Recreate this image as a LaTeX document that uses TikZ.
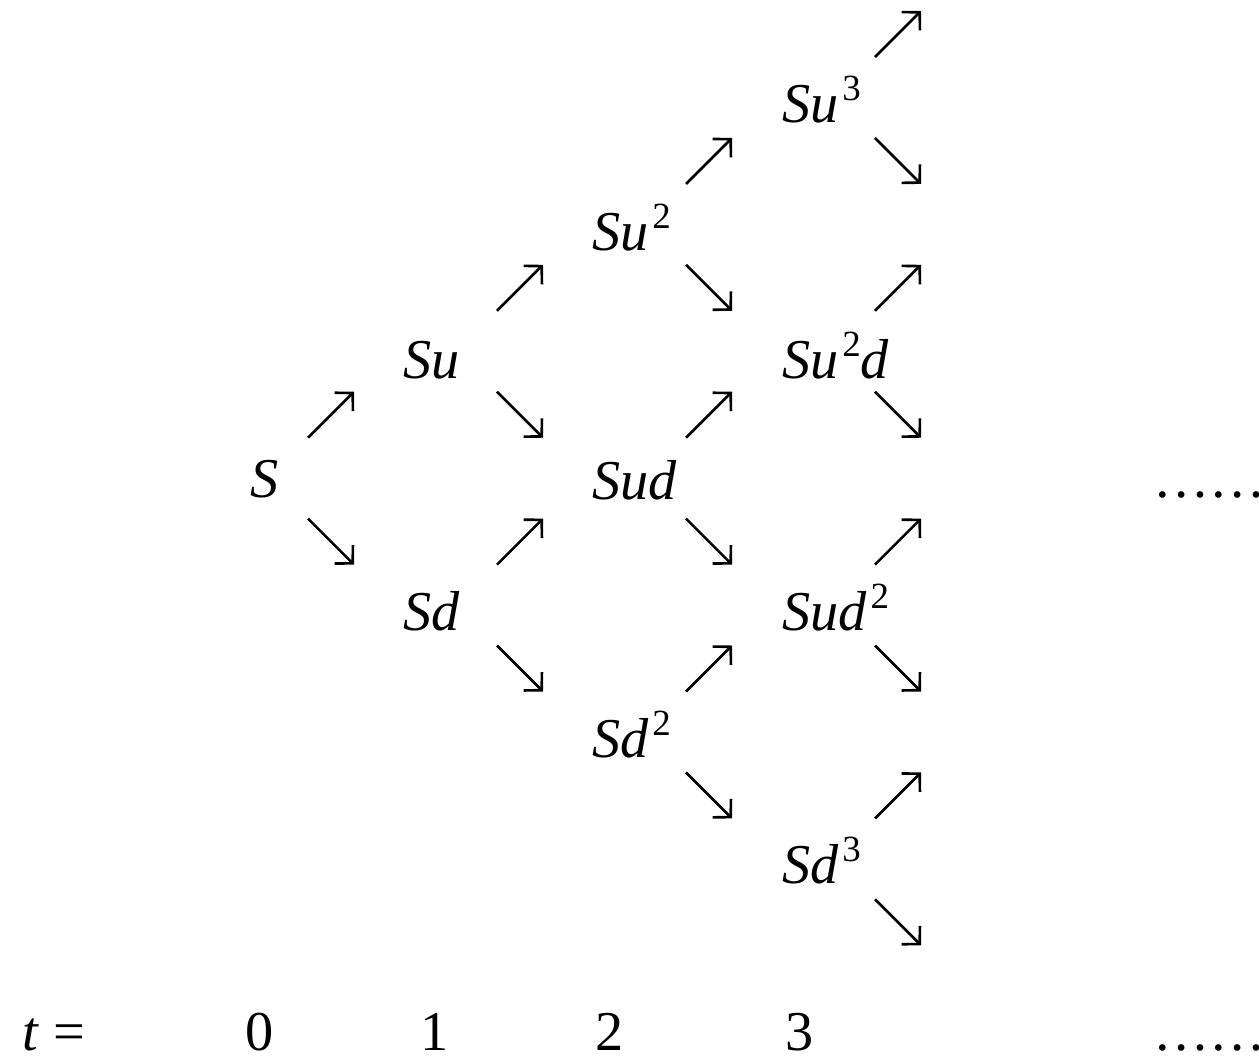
\documentclass[tikz,border=0pt]{standalone}
\usepackage{fontspec}
\setmainfont{Liberation Serif}
\usepackage{tikz}
\usetikzlibrary{arrows.meta}

\newcommand{\ex}[1]{\kern1pt\raisebox{0.38em}{\fontsize{10.5}{11}\selectfont\upshape #1}}

\begin{document}
\begin{tikzpicture}[x=0.01cm, y=-0.01cm,
    price/.style={inner sep=0pt, anchor=base west,
                  font=\fontsize{16}{19}\selectfont\itshape},
    tick/.style={inner sep=0pt, anchor=base,
                 font=\fontsize{16}{19}\selectfont},
    branch/.style={line width=0.75pt,
                   -{Straight Barb[length=3.6pt, width=7.4pt, line width=0.75pt]}}]

  % Frame of the page
  \useasboundingbox (0,0) rectangle (1259,1059);

  % Prices at each step
  \node[price] (s)    at (250,497) {S};

  \node[price] (su)   at (403,378) {Su};
  \node[price] (sd)   at (403,630) {Sd};

  \node[price] (suu)  at (592,250) {Su\ex{2}};
  \node[price] (sud)  at (592,499) {Sud};
  \node[price] (sdd)  at (592,757) {Sd\ex{2}};

  \node[price] (suuu) at (782,122) {Su\ex{3}};
  \node[price] (suud) at (782,378) {Su\ex{2}d};
  \node[price] (sudd) at (782,630) {Sud\ex{2}};
  \node[price] (sddd) at (782,883) {Sd\ex{3}};

  \node[tick] (more) at (1153,497) [anchor=base west] {……};

  % Up and down moves
  \foreach \c in {0,...,3}
    \foreach \m in {0,...,\c} {
      \draw[branch] ({308+189*\c},{34+126.9*(3-\c+2*\m)+23}) -- ++(46,-46);
      \draw[branch] ({308+189*\c},{34+126.9*(4-\c+2*\m)-23}) -- ++(46,46);
    }

  % Time axis
  \node[tick, anchor=base west] (tlab) at (22,1050) {\textit{t}\kern4pt=};
  \node[tick] (t0) at (260,1050) {0};
  \node[tick] (t1) at (435,1050) {1};
  \node[tick] (t2) at (610,1050) {2};
  \node[tick] (t3) at (800,1050) {3};
  \node[tick, anchor=base west] (tmore) at (1153,1050) {……};

\end{tikzpicture}
\end{document}
